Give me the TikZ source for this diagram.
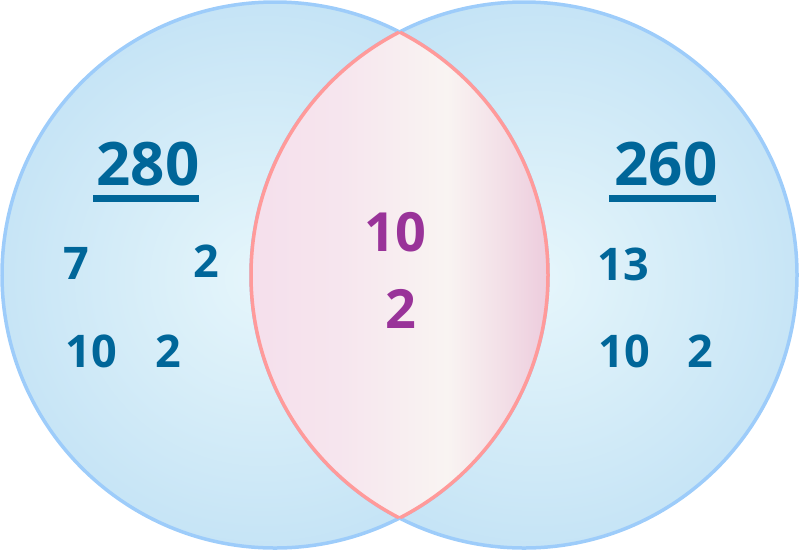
\documentclass[tikz,border=0pt]{standalone}
\usepackage{fontspec}
\setmainfont{Open Sans}
\definecolor{circedge}{HTML}{9DCCFA}
\definecolor{circout}{HTML}{C2E2F5}
\definecolor{circin}{HTML}{E6F6FB}
\definecolor{lensedge}{HTML}{FF9A9A}
\definecolor{lensL}{HTML}{F5DFEC}
\definecolor{lensM}{HTML}{F9F4F2}
\definecolor{lensR}{HTML}{EDCCDD}
\definecolor{numblue}{HTML}{006699}
\definecolor{numpurple}{HTML}{993399}
\pgfdeclarehorizontalshading{lensshade}{100bp}{color(0bp)=(lensL); color(25bp)=(lensL); color(40bp)=(lensL!70!lensM); color(58bp)=(lensM); color(67bp)=(lensM!50!lensR); color(75bp)=(lensR); color(100bp)=(lensR)}
\tikzset{
  bignum/.style={inner sep=0pt, text=numblue, font=\fontsize{60}{60}\selectfont\bfseries},
  smallnum/.style={inner sep=0pt, text=numblue, font=\fontsize{45}{45}\selectfont\bfseries},
  midnum/.style={inner sep=0pt, text=numpurple, font=\fontsize{54}{54}\selectfont\bfseries},
  uline/.style={draw=numblue, line width=7pt},
  circline/.style={draw=circedge, line width=3.5pt},
  lensline/.style={draw=lensedge, line width=3.5pt}
}
\begin{document}
\begin{tikzpicture}[x=1pt,y=-1pt]
\useasboundingbox (0,0) rectangle (800,550);
\coordinate (cl) at (275,275);
\coordinate (cr) at (524,275);
% left circle fill
\begin{scope}
  \clip (cl) circle[radius=273pt];
  \shade[inner color=circin, outer color=circout] (262,278) circle[radius=300pt];
\end{scope}
% right circle fill
\begin{scope}
  \clip (cr) circle[radius=273pt];
  \shade[inner color=circin, outer color=circout] (537,278) circle[radius=300pt];
\end{scope}
\draw[circline] (cl) circle[radius=273pt];
\draw[circline] (cr) circle[radius=273pt];
% lens
\begin{scope}
  \clip (cl) circle[radius=273pt];
  \clip (cr) circle[radius=273pt];
  \shade[shading=lensshade] (251,0) rectangle (548,550);
\end{scope}
\begin{scope}
  \clip (cr) circle[radius=273pt];
  \draw[lensline] (cl) circle[radius=273pt];
\end{scope}
\begin{scope}
  \clip (cl) circle[radius=273pt];
  \draw[lensline] (cr) circle[radius=273pt];
\end{scope}
% numbers
\node[bignum] (n280) at (148,164.5) {280};
\node[bignum] (n260) at (666,164.5) {260};
\draw[uline] (93,198.5) -- (199,198.5);
\draw[uline] (609,198.5) -- (716,198.5);
\node[smallnum] (l7) at (76,263) {7};
\node[smallnum] (l2a) at (206,261) {2};
\node[smallnum] (l10) at (91,351) {10};
\node[smallnum] (l2b) at (168,351) {2};
\node[smallnum] (r13) at (623,264) {13};
\node[smallnum] (r10) at (624,351) {10};
\node[smallnum] (r2) at (700,351) {2};
\node[midnum] (m10) at (395.5,232.5) {10};
\node[midnum] (m2) at (401,309) {2};
\end{tikzpicture}
\end{document}
